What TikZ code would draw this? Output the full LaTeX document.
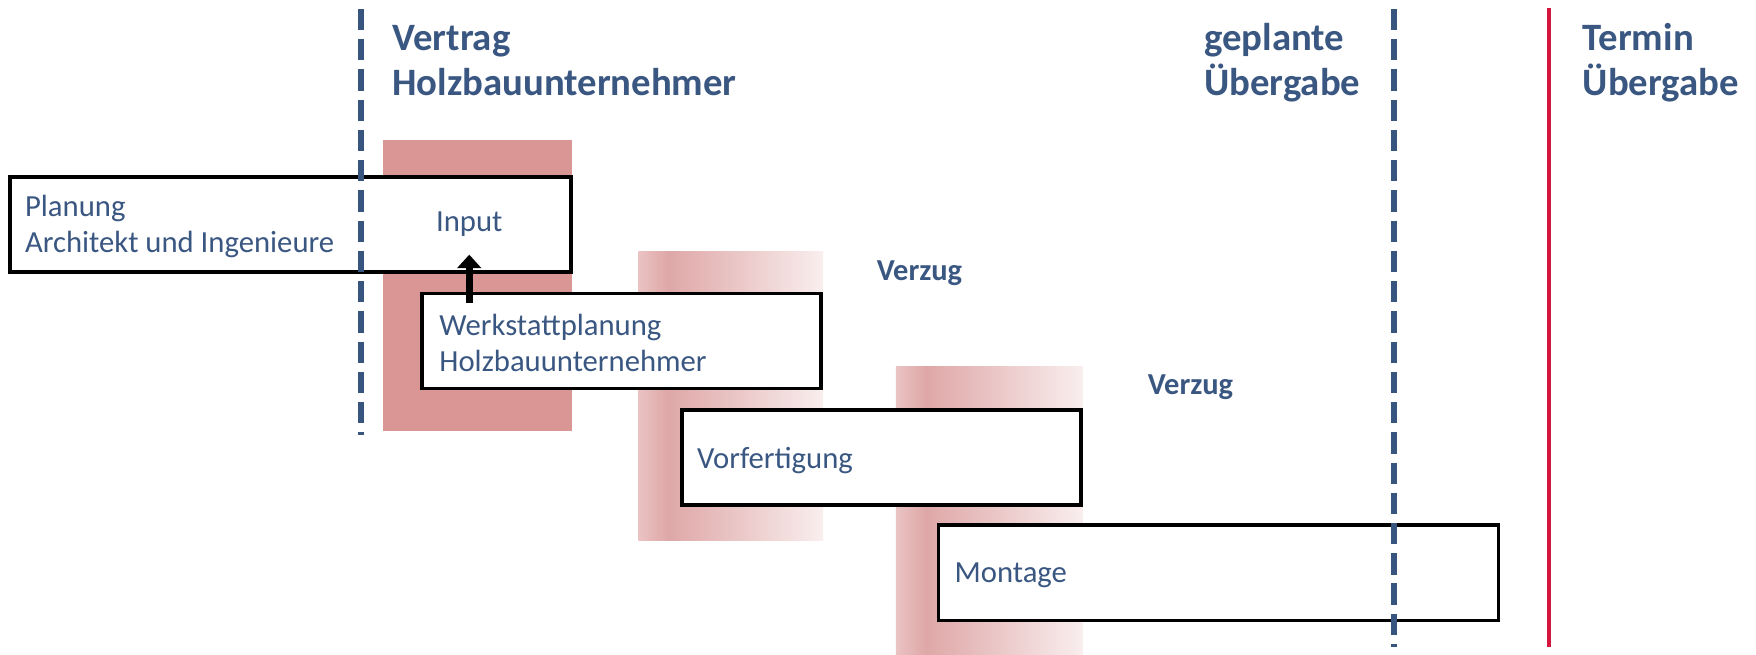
\documentclass[tikz,border=0pt]{standalone}
\usepackage{fontspec}
\setmainfont{Carlito}
\usetikzlibrary{fit,arrows.meta,calc}
\definecolor{ink}{HTML}{3A5782}
\definecolor{rulecol}{HTML}{385580}
\definecolor{rose}{HTML}{D99694}
\definecolor{fadeA}{HTML}{EAC3C3}
\definecolor{fadeB}{HTML}{DFA7A7}
\definecolor{fadeC}{HTML}{F9EEEE}
\definecolor{deadline}{HTML}{D3173F}
% light-dark-light band used for the delay columns
\pgfdeclarehorizontalshading{delayfade}{100bp}{color(0bp)=(fadeA); color(25bp)=(fadeA); color(33bp)=(fadeB); color(75bp)=(fadeC); color(100bp)=(fadeC)}
\tikzset{
  phase/.style={draw=black, line width=1.6pt, fill=white, inner sep=0pt},
  solidcol/.style={fill=rose, draw=none, inner sep=0pt},
  fadecol/.style={shading=delayfade, draw=none, inner sep=0pt},
  bodytext/.style={text=ink, font=\fontsize{13.7}{16}\selectfont, align=left, inner sep=0pt},
  headtext/.style={text=ink, font=\fontsize{17.3}{20}\selectfont\bfseries, align=left, inner sep=0pt},
  delaytext/.style={text=ink, font=\fontsize{13.6}{16}\selectfont\bfseries, inner sep=0pt},
  milestone/.style={draw=rulecol, line width=2.6pt, dash pattern=on 9.5pt off 4pt},
  duedate/.style={draw=deadline, line width=1.5pt},
  feedback/.style={draw=black, line width=3.2pt, -{Triangle[width=10.5pt,length=6pt]}}
}
\begin{document}
\begin{tikzpicture}[x=0.5pt, y=-0.5pt]
\useasboundingbox (0,0) rectangle (1568,584);

% columns behind the phases
\node[solidcol, fit={(342,125) (511,385)}] (col1) {};
\node[fadecol, fit={(570,225) (735,483)}] (col2) {};
\node[fadecol, fit={(800,327) (967,584)}] (col3) {};

% phase boxes
\node[phase, fit={(9,158) (510,243)}] (plan) {};
\node[phase, fit={(377,262) (733,347)}] (werk) {};
\node[phase, fit={(609,366) (965,451)}] (vorf) {};
\node[phase, fit={(838,469) (1338,554)}] (mont) {};

\node[bodytext, anchor=west] (plantext) at (22,202) {Planung\\Architekt und Ingenieure};
\node[bodytext] (inp) at (419,200) {Input};
\node[bodytext, anchor=west] (werktext) at (392,306) {Werkstattplanung\\Holzbauunternehmer};
\node[bodytext, anchor=west] (vorftext) at (622,411) {Vorfertigung};
\node[bodytext, anchor=west] (monttext) at (852,514) {Montage};

\node[delaytext] (delay1) at (821,244) {Verzug};
\node[delaytext] (delay2) at (1063,346) {Verzug};

% feedback from workshop planning into the input
\coordinate (fbstart) at (419,271);
\draw[feedback, shorten >=8pt] (fbstart) -- (inp.south);

% milestone lines
\draw[milestone] (322,8) -- (322,388);
\draw[milestone] (1245,8) -- (1245,578);
\draw[duedate] (1383,7) -- (1383,578);

% milestone headings
\node[headtext, anchor=base west] (vertrag) at (350,85) {Vertrag\\Holzbauunternehmer};
\node[headtext, anchor=base west] (geplant) at (1075,85) {geplante\\Übergabe};
\node[headtext, anchor=base west] (termin) at (1413,85) {Termin\\Übergabe};
\end{tikzpicture}
\end{document}
